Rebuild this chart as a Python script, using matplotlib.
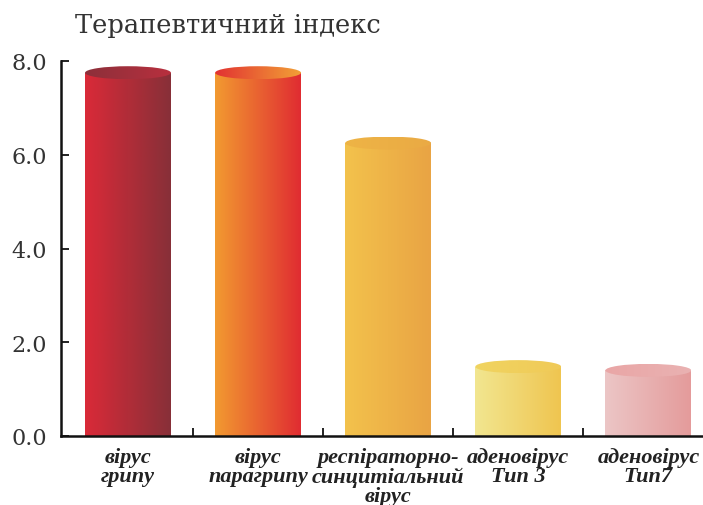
import numpy as np
import matplotlib
matplotlib.use("Agg")
import matplotlib.pyplot as plt
from matplotlib.patches import Ellipse
from matplotlib.colors import to_rgba

# ---- data ----
categories = ["вірус\nгрипу", "вірус\nпарагрипу", "респіраторно-\nсинцитіальний\nвірус",
              "аденовірус\nТип 3", "аденовірус\nТип7"]
values = [7.75, 7.75, 6.25, 1.48, 1.40]
y_ticks = [0, 2, 4, 6, 8]
y_tick_labels = ["0.0", "2.0", "4.0", "6.0", "8.0"]
title = "Терапевтичний індекс"

# body gradients (left -> right) and top-ellipse gradients
body_colors = [("#da2a38", "#873038"), ("#f29a30", "#e02c32"), ("#f3c24c", "#e9a444"),
               ("#f2e690", "#efc550"), ("#ecc6c6", "#e49b9b")]
top_colors = [("#8c2f3a", "#b8303e"), ("#e23232", "#f2a036"), ("#eeb446", "#eaaa44"),
              ("#f0d460", "#f0ca58"), ("#e9a6a6", "#eab2b2")]

fig = plt.figure(figsize=(7.03, 5.06), dpi=100)
ax = fig.add_axes([61/703, 1-437/506, 1-61/703, (437-62)/506])

x = np.arange(len(categories))
width = 0.66
bars = ax.bar(x, values, width=width, color="none", edgecolor="none", zorder=2)

ax.set_xlim(-0.515, 4.42)
ax.set_ylim(0, 8)

px_per_unit = (437-62)/8.0
ell_h = 13/px_per_unit

def grad_img(c0, c1, n=256):
    a = np.array(to_rgba(c0)); b = np.array(to_rgba(c1))
    t = np.linspace(0, 1, n)[:, None]
    return (a*(1-t) + b*t)[None, :, :]

for rect, (b0, b1), (t0, t1) in zip(bars.patches, body_colors, top_colors):
    x0 = rect.get_x(); w = rect.get_width(); h = rect.get_height()
    im = ax.imshow(grad_img(b0, b1), extent=[x0, x0+w, 0, h], aspect="auto",
                   zorder=2, interpolation="bilinear")
    clip = plt.Rectangle((x0, 0), w, h, transform=ax.transData, facecolor="none", edgecolor="none")
    ax.add_patch(clip)
    im.set_clip_path(clip)
    ell = Ellipse((x0+w/2, h), w, ell_h, facecolor="none", edgecolor="none", transform=ax.transData)
    ax.add_patch(ell)
    im2 = ax.imshow(grad_img(t0, t1), extent=[x0, x0+w, h-ell_h/2, h+ell_h/2], aspect="auto",
                    zorder=3, interpolation="bilinear")
    im2.set_clip_path(ell)

ax.set_xlim(-0.515, 4.42)
ax.set_ylim(0, 8)

for s in ["top", "right"]:
    ax.spines[s].set_visible(False)
for s in ["left", "bottom"]:
    ax.spines[s].set_linewidth(1.8)
    ax.spines[s].set_color("#111111")
    ax.spines[s].set_zorder(5)

ax.set_yticks(y_ticks)
ax.set_yticklabels(y_tick_labels, family="DejaVu Serif", fontsize=16, color="#333333")
ax.tick_params(axis="y", direction="in", length=6, width=1.3, pad=10, colors="#111111",
               labelcolor="#333333")

ax.set_xticks(x)
ax.set_xticklabels(categories, family="Liberation Serif", style="italic", weight="bold",
                   fontsize=16, color="#222222", linespacing=0.95, va="top")
ax.tick_params(axis="x", which="major", length=0, pad=8)
ax.set_xticks(x[:-1] + 0.5, minor=True)
ax.tick_params(axis="x", which="minor", direction="in", length=6, width=1.3, colors="#111111")

fig.text(75/703, 1-26/506, title, family="DejaVu Serif", fontsize=18.5, color="#333333",
         ha="left", va="center")

fig.savefig("out.png", dpi=100)
